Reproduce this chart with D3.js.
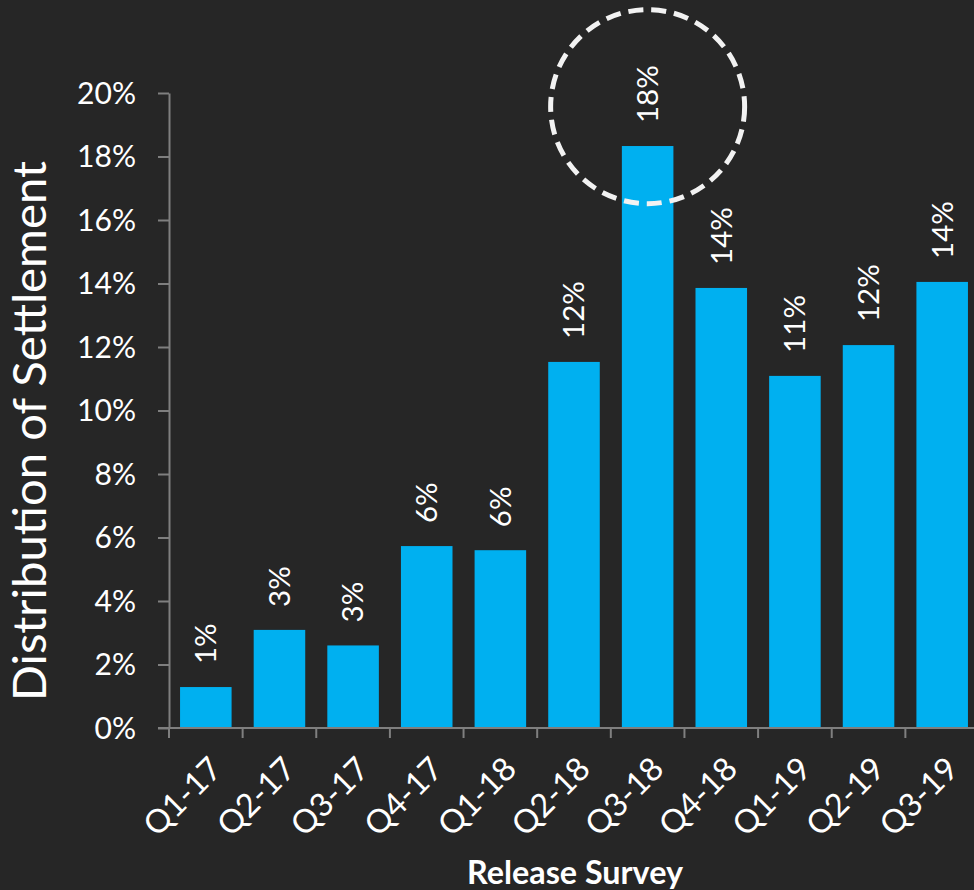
<!DOCTYPE html>
<html><head><meta charset="utf-8">
<script src="https://cdn.jsdelivr.net/npm/d3@7"></script>
<style>html,body{margin:0;padding:0;background:#262626;overflow:hidden}svg{display:block}</style>
</head><body>
<svg id="chart" width="974" height="890"></svg>
<script>
const categories = ["Q1-17","Q2-17","Q3-17","Q4-17","Q1-18","Q2-18","Q3-18","Q4-18","Q1-19","Q2-19","Q3-19"];
const values = [0.0129,0.0309,0.0260,0.0573,0.0560,0.1153,0.1833,0.1386,0.1109,0.1206,0.1405];
const yTickValues = [0,0.02,0.04,0.06,0.08,0.10,0.12,0.14,0.16,0.18,0.20];
const highlightCategory = "Q3-18";
const highlightLevel = 0.1957;
const yTitle = "Distribution of Settlement";
const xTitle = "Release Survey";

const FONT = "Lato, 'Noto Sans', sans-serif";
const W = 974, H = 890;
const svg = d3.select("#chart");
svg.append("rect").attr("width", W).attr("height", H).attr("fill", "#262626");

function sizeFor(str, target, weight) {
  const t = svg.append("text").attr("font-family", FONT).attr("font-size", 100)
    .attr("font-weight", weight || "normal").text(str);
  const w = t.node().getComputedTextLength();
  t.remove();
  return 100 * target / w;
}
const fsYTick = sizeFor("20%", 59);
const fsBar = sizeFor("18%", 58);
const fsXTick = fsYTick * 1.08;
const fsYTitle = sizeFor(yTitle, 540);
const fsXTitle = sizeFor(xTitle, 216, "bold");

const x = d3.scaleBand().domain(categories).range([169, 979]).paddingInner(0.3).paddingOuter(0.15);
const y = d3.scaleLinear().domain([0, 0.20]).range([728, 93]);
const axisColor = "#7f7f7f";

svg.append("g").selectAll("rect").data(values).join("rect")
  .attr("x", (d, i) => x(categories[i]))
  .attr("y", d => y(d))
  .attr("width", x.bandwidth())
  .attr("height", d => y(0) - y(d))
  .attr("fill", "#00B0F0");

const yAxis = svg.append("g").attr("transform", "translate(169,0)")
  .call(d3.axisLeft(y).tickValues(yTickValues).tickFormat(d3.format(".0%")).tickSize(11).tickSizeOuter(0).tickPadding(22));
yAxis.select(".domain").attr("stroke", axisColor).attr("stroke-width", 2);
yAxis.selectAll(".tick line").attr("stroke", axisColor).attr("stroke-width", 2);
yAxis.selectAll(".tick text").attr("fill", "#ffffff").attr("font-family", FONT).attr("font-size", fsYTick).attr("dy", "0.34em");

const step = x.step();
const boundaries = categories.map(c => x(c) - step * x.paddingOuter()).concat([x(categories[categories.length-1]) + x.bandwidth() + step * x.paddingOuter()]);
const xg = svg.append("g");
xg.append("line").attr("x1", 158).attr("x2", 979).attr("y1", y(0)).attr("y2", y(0))
  .attr("stroke", axisColor).attr("stroke-width", 2);
xg.selectAll("line.tk").data(boundaries).join("line").attr("class", "tk")
  .attr("x1", d => d).attr("x2", d => d).attr("y1", y(0)).attr("y2", y(0) + 10)
  .attr("stroke", axisColor).attr("stroke-width", 2);
xg.selectAll("text").data(categories).join("text")
  .attr("transform", d => `translate(${x(d) + x.bandwidth()/2 + 10},${y(0) + 35}) rotate(-45)`)
  .attr("text-anchor", "end").attr("dy", "0.35em")
  .attr("fill", "#ffffff").attr("font-family", FONT).attr("font-size", fsXTick)
  .text(d => d);

svg.append("g").selectAll("text").data(values).join("text")
  .attr("transform", (d, i) => `translate(${x(categories[i]) + x.bandwidth()/2},${y(d) - 23}) rotate(-90)`)
  .attr("text-anchor", "start").attr("dy", "0.35em")
  .attr("fill", "#ffffff").attr("font-family", FONT).attr("font-size", fsBar)
  .text(d => d3.format(".0%")(d));

svg.append("circle")
  .attr("cx", x(highlightCategory) + x.bandwidth()/2)
  .attr("cy", y(highlightLevel))
  .attr("r", 97)
  .attr("fill", "none").attr("stroke", "#f2f2f2").attr("stroke-width", 5)
  .attr("stroke-dasharray", "15 8");

svg.append("text")
  .attr("transform", `translate(46,431) rotate(-90)`)
  .attr("text-anchor", "middle").attr("fill", "#ffffff")
  .attr("font-family", FONT).attr("font-size", fsYTitle).text(yTitle);
svg.append("text")
  .attr("x", 575).attr("y", 884).attr("text-anchor", "middle")
  .attr("fill", "#ffffff").attr("font-family", FONT).attr("font-weight", "bold")
  .attr("font-size", fsXTitle).text(xTitle);
</script>
</body></html>
